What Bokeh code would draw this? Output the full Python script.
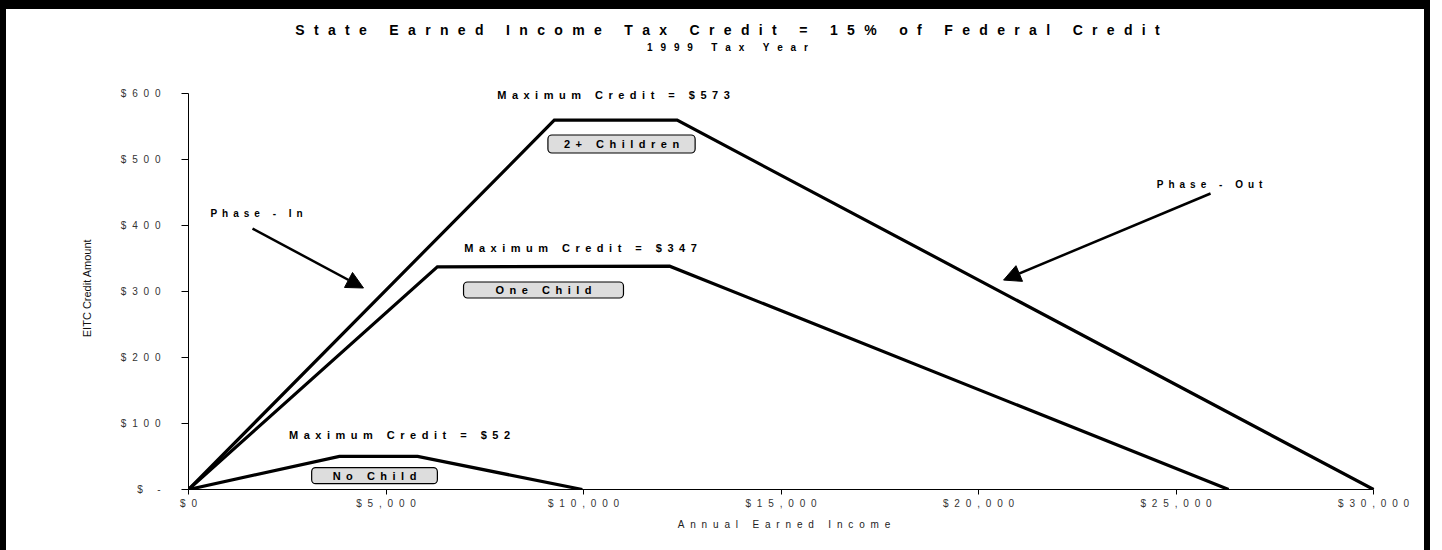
from bokeh.plotting import figure
from bokeh.layouts import column
from bokeh.models import Range1d, FixedTicker, Label, Arrow, NormalHead
from bokeh.embed import file_html
from bokeh.resources import INLINE

# ---------------- data ----------------
income_2plus = [0, 9260, 12370, 30000]
credit_2plus = [0, 559, 559, 0]
income_one = [0, 6300, 12180, 26330]
credit_one = [0, 337, 338, 0]
income_none = [0, 3820, 5800, 9970]
credit_none = [0, 50, 50, 0]

series_labels = ["2+ Children", "One Child", "No Child"]
max_credit_labels = ["Maximum Credit = $573", "Maximum Credit = $347", "Maximum Credit = $52"]
phase_labels = ["Phase - In", "Phase - Out"]

x_ticks = [0, 5000, 10000, 15000, 20000, 25000, 30000]
x_tick_labels = ["$0", "$5,000", "$10,000", "$15,000", "$20,000", "$25,000", "$30,000"]
y_ticks = [0, 100, 200, 300, 400, 500, 600]
y_tick_labels = ["$ -", "$100", "$200", "$300", "$400", "$500", "$600"]

title_text = "State Earned Income Tax Credit = 15% of Federal Credit"
subtitle_text = "1999 Tax Year"
x_label = "Annual Earned Income"
y_label = "EITC Credit Amount"

# ---------------- annotation placement (layout, not data) ----------------
max_label_pos = [(10759, 597), (9924, 365), (5342, 82)]
box_pos = [(10962, 523), (8987, 302), (4709, 21)]
box_pad_x = [16, 32, 21]
box_pad_y = [3, 2, 2]
phase_label_pos = [(1722, 418), (25848, 461)]
arrow_pos = [((1620, 395), (4430, 305)), ((25873, 448), (20633, 317))]

FONT = "Liberation Sans"
GAP = "\u2002"


def spaced(s, gap=GAP):
    return gap.join(s)


# ---------------- title strip ----------------
top = figure(
    width=1430, height=85, title=None, x_axis_location=None, y_axis_location=None,
    x_range=Range1d(0, 1), y_range=Range1d(0, 1),
    output_backend="svg", toolbar_location=None,
    min_border_left=0, min_border_right=0, min_border_top=0, min_border_bottom=0,
    styles={"border-top": "9px solid black", "border-left": "6px solid black",
            "border-right": "6px solid black"},
)
top.outline_line_color = None
top.grid.visible = False
top.add_layout(Label(x=715, y=11, x_units="canvas", y_units="canvas",
                     text=spaced(title_text, "\u2002\u2006"),
                     text_font=FONT, text_font_style="bold", text_font_size="14px",
                     text_align="center", text_baseline="middle", text_color="black"))
top.add_layout(Label(x=715, y=29, x_units="canvas", y_units="canvas",
                     text=spaced(subtitle_text, "\u2002\u2009\u200a"),
                     text_font=FONT, text_font_style="bold", text_font_size="10px",
                     text_align="center", text_baseline="middle", text_color="black"))

# ---------------- main chart ----------------
p = figure(
    width=1430, height=465, title=None,
    x_range=Range1d(0, 30150), y_range=Range1d(0, 610),
    output_backend="svg", toolbar_location=None,
    min_border_left=182, min_border_right=57, min_border_top=1, min_border_bottom=61,
    styles={"border-left": "6px solid black", "border-right": "6px solid black"},
)
p.outline_line_color = None
p.xgrid.visible = False
p.ygrid.visible = False

xa = p.xaxis[0]
xa.bounds = (0, 30000)
xa.ticker = FixedTicker(ticks=x_ticks)
xa.major_label_overrides = {t: spaced(l, "\u2002\u200a") for t, l in zip(x_ticks, x_tick_labels)}
xa.minor_tick_line_color = None
xa.major_tick_in = 0
xa.major_tick_out = 5
xa.major_label_standoff = 3
xa.axis_label = spaced(x_label, "\u2002\u200a")
xa.axis_label_standoff = 7
xa.axis_label_text_font = FONT
xa.axis_label_text_font_style = "normal"
xa.axis_label_text_font_size = "10px"
xa.axis_label_text_color = "#222222"
xa.major_label_text_font = FONT
xa.major_label_text_font_size = "10px"
xa.major_label_text_color = "#333333"
xa.axis_line_color = "black"
xa.major_tick_line_color = "black"

ya = p.yaxis[0]
ya.bounds = (0, 600)
ya.ticker = FixedTicker(ticks=y_ticks)
ya.major_label_overrides = {t: spaced(l, "\u2002\u200a") for t, l in zip(y_ticks, y_tick_labels)}
ya.minor_tick_line_color = None
ya.major_tick_in = 0
ya.major_tick_out = 7
ya.major_label_standoff = 21
ya.axis_label = y_label
ya.axis_label_standoff = 25
ya.axis_label_text_font = FONT
ya.axis_label_text_font_style = "normal"
ya.axis_label_text_font_size = "11px"
ya.axis_label_text_color = "#111111"
ya.major_label_text_font = FONT
ya.major_label_text_font_size = "10px"
ya.major_label_text_color = "#333333"
ya.axis_line_color = "black"
ya.major_tick_line_color = "black"

for xs, ys in [(income_2plus, credit_2plus), (income_one, credit_one), (income_none, credit_none)]:
    p.line(xs, ys, line_color="black", line_width=3.2, line_join="miter")

for (lx, ly), txt in zip(max_label_pos, max_credit_labels):
    p.add_layout(Label(x=lx, y=ly, text=spaced(txt), text_font=FONT, text_font_style="bold",
                       text_font_size="11px", text_align="center", text_baseline="middle",
                       text_color="black"))

for (bx, by), txt, px_, py_ in zip(box_pos, series_labels, box_pad_x, box_pad_y):
    pad = dict(left=px_, right=px_, top=py_, bottom=py_)
    p.add_layout(Label(x=bx, y=by, x_offset=3, y_offset=-3, text=spaced(txt), text_font=FONT,
                       text_font_style="bold", text_font_size="11px", text_align="center",
                       text_baseline="middle", text_alpha=0, background_fill_color="#555555",
                       border_line_color=None, padding=pad, border_radius=4))
    p.add_layout(Label(x=bx, y=by, text=spaced(txt), text_font=FONT, text_font_style="bold",
                       text_font_size="11px", text_align="center", text_baseline="middle",
                       text_color="black", background_fill_color="#dddddd",
                       border_line_color="black", border_line_width=1.2, padding=pad,
                       border_radius=4))

for (lx, ly), txt in zip(phase_label_pos, phase_labels):
    p.add_layout(Label(x=lx, y=ly, text=spaced(txt), text_font=FONT, text_font_style="bold",
                       text_font_size="10px", text_align="center", text_baseline="middle",
                       text_color="black"))
for (x0, y0), (x1, y1) in arrow_pos:
    p.add_layout(Arrow(end=NormalHead(size=17, fill_color="black", line_color="black"),
                       x_start=x0, y_start=y0, x_end=x1, y_end=y1,
                       line_color="black", line_width=2.5))

layout = column(top, p, spacing=0)
open("out.html", "w").write(file_html(layout, INLINE, "EITC"))
